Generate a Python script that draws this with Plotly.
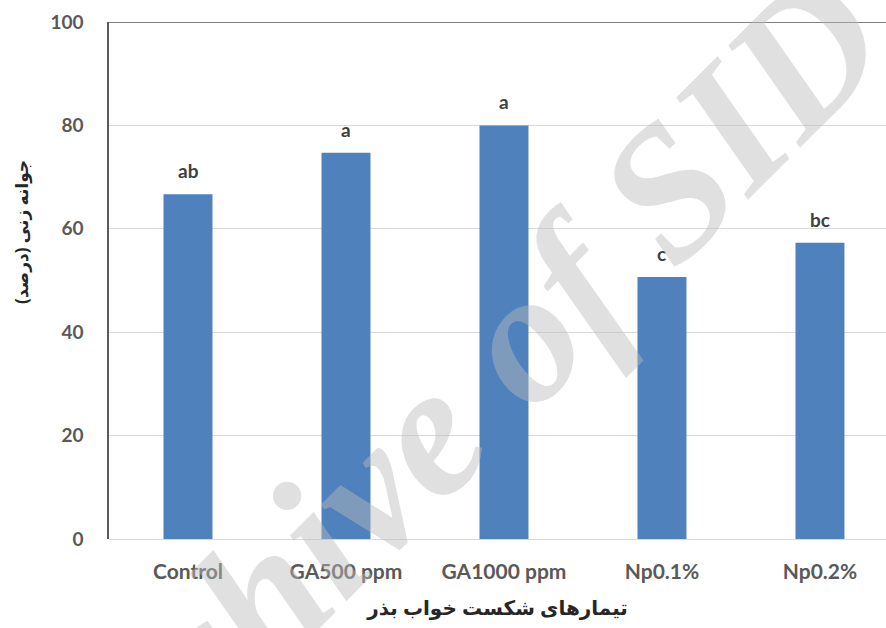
import plotly.graph_objects as go

# Seed-dormancy-breaking treatments and germination percentage
treatments = ["Control", "GA500 ppm", "GA1000 ppm", "Np0.1%", "Np0.2%"]
germination = [66.7, 74.7, 80.0, 50.7, 57.3]
letters = ["ab", "a", "a", "c", "bc"]

y_ticks = [0, 20, 40, 60, 80, 100]

bar_color = "#4f81bd"
tick_color = "#595959"
font_family = "Lato, 'Open Sans', sans-serif"
fa_family = "'Noto Sans', 'DejaVu Sans', sans-serif"

fig = go.Figure()
fig.add_trace(go.Bar(
    x=treatments,
    y=germination,
    width=0.31,
    marker=dict(color=bar_color, line=dict(width=0)),
    hoverinfo="skip",
))

# significance letters above each bar
for t, v, lab in zip(treatments, germination, letters):
    fig.add_annotation(
        x=t, y=v, text=f"<b>{lab}</b>", showarrow=False,
        yanchor="bottom", yshift=10,
        font=dict(family=font_family, size=19, color="#404040"),
    )

# y-axis title, placed on the left of the tick labels
fig.add_annotation(
    x=-0.112, y=0.594, xref="paper", yref="paper",
    xanchor="center", yanchor="middle",
    text="<b>جوانه زنی (درصد)</b>", showarrow=False, textangle=-90,
    font=dict(size=17, color="#262626", family=fa_family),
)

# diagonal watermark
fig.add_annotation(
    x=0.42, y=0.225, xref="paper", yref="paper",
    xanchor="center", yanchor="middle",
    text="<b><i>Archive of SID</i></b>",
    showarrow=False, textangle=-45,
    font=dict(family="'Liberation Serif', serif", size=188,
              color="rgba(187,187,187,0.45)"),
)

# top border of the plot frame
fig.add_shape(type="line", xref="paper", yref="y", x0=0, x1=1, y0=100, y1=100,
              line=dict(color="#595959", width=1.5))

fig.update_layout(
    width=886, height=628,
    margin=dict(l=109, r=0, t=22, b=89),
    plot_bgcolor="white", paper_bgcolor="white",
    showlegend=False,
    font=dict(family=font_family),
    xaxis=dict(
        range=[-0.5, 4.418],
        showline=False, showgrid=False, zeroline=False,
        tickfont=dict(size=21, color=tick_color, family=font_family, weight="bold"),
        ticklabelstandoff=18,
        title=dict(text="<b>تیمارهای شکست خواب بذر</b>", standoff=18,
                   font=dict(size=20, color="#262626", family=fa_family)),
    ),
    yaxis=dict(
        range=[0, 100],
        tickvals=y_ticks,
        ticktext=[f"<b>{v}</b>" for v in y_ticks],
        showgrid=True, gridcolor="#d9d9d9", gridwidth=1,
        zeroline=True, zerolinecolor="#d9d9d9", zerolinewidth=1,
        showline=True, linecolor="#595959", linewidth=1.5,
        tickfont=dict(size=19, color=tick_color, family=font_family),
        ticklabelstandoff=20,
    ),
)

fig.write_html("out.html")
